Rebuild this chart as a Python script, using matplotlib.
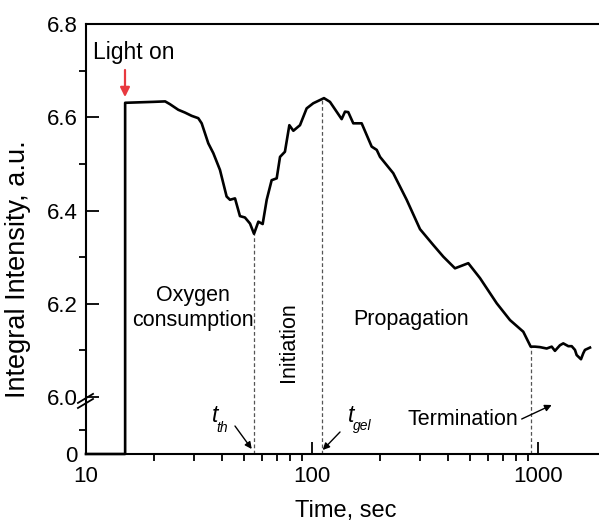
import numpy as np
import matplotlib
matplotlib.use('Agg')
import matplotlib.pyplot as plt

plt.rcParams['font.family'] = ['Liberation Sans', 'DejaVu Sans']

# data
time_s = [10, 14.9, 14.9, 19.85, 22.4, 23.53, 25.61, 27.42, 29.36, 31.39, 32.5,
          34.77, 36.59, 39.16, 41.9, 43.37, 45.64, 48.0, 50.5, 53.18, 55.4,
          57.9, 60.5, 63.04, 66.3, 69.8, 72.2, 75.9, 79.4, 82.7, 88.5, 94.7,
          101.3, 113.0, 120.1, 135.3, 140.0, 144.7, 152.3, 165.9, 183.7, 193.4,
          200.0, 228.9, 262.4, 300.6, 344.1, 381.1, 429.3, 491.6, 553.9, 656.8,
          751.9, 861.0, 928.5, 970, 1020, 1093, 1150, 1189, 1251, 1294, 1362,
          1410, 1458, 1483, 1550, 1587, 1614, 1699]
intensity = [0, 0, 6.631, 6.633, 6.634, 6.628, 6.616, 6.610, 6.603, 6.598, 6.587,
             6.544, 6.523, 6.487, 6.430, 6.423, 6.426, 6.388, 6.385, 6.372, 6.350,
             6.376, 6.371, 6.423, 6.465, 6.469, 6.515, 6.526, 6.583, 6.571, 6.583, 6.619,
             6.630, 6.641, 6.633, 6.596, 6.612, 6.611, 6.587, 6.587, 6.537, 6.530,
             6.515, 6.480, 6.423, 6.360, 6.326, 6.301, 6.276, 6.287, 6.255, 6.201,
             6.165, 6.140, 6.108, 6.108, 6.107, 6.104, 6.108, 6.099, 6.111, 6.115, 6.109,
             6.109, 6.101, 6.090, 6.081, 6.094, 6.101, 6.106]

mark_t = [55.4, 111.0, 931.0]      # t_th, t_gel, termination
mark_top = [6.350, 6.641, 6.108]

yticks = [0, 6.0, 6.2, 6.4, 6.6, 6.8]
yticklabels = ['0', '6.0', '6.2', '6.4', '6.6', '6.8']
yminor = [2.5, 6.1, 6.3, 6.5, 6.7]
xticks = [10, 100, 1000]
xticklabels = ['10', '100', '1000']

# broken y axis: 0..6 squeezed into a short bottom segment
c = 0.12225


def fwd(y):
    y = np.asarray(y, dtype=float)
    return np.where(y < 6, y * c / 6, c + (y - 6))


def inv(z):
    z = np.asarray(z, dtype=float)
    return np.where(z < c, z * 6 / c, z - c + 6)


fig = plt.figure(figsize=(5.99, 5.28), dpi=100)
ax = fig.add_axes([86/599, 74/528, 520/599, 430/528])
ax.set_xscale('log')
ax.set_yscale('function', functions=(fwd, inv))

ax.plot(time_s, intensity, color='k', lw=1.9, clip_on=False, zorder=3)
for t, top in zip(mark_t, mark_top):
    ax.plot([t, t], [0, top], color='#555555', lw=0.9, ls=(0, (3, 2)))

ax.set_xlim(10, 2000)
ax.set_ylim(0, 6.8)
ax.set_xticks(xticks)
ax.set_xticklabels(xticklabels)
ax.set_yticks(yticks)
ax.set_yticklabels(yticklabels)
ax.set_yticks(yminor, minor=True)
ax.tick_params(direction='in', labelsize=16, width=1.3)
ax.tick_params(axis='x', pad=9)
ax.tick_params(axis='y', pad=6)
ax.tick_params(which='major', length=9)
ax.tick_params(which='minor', length=5, width=1.3)
ax.tick_params(top=False, right=False, which='both')
for s in ax.spines.values():
    s.set_linewidth(1.5)

ax.set_xlabel('Time, sec', fontsize=17, labelpad=9)
ax.set_ylabel('Integral Intensity, a.u.', fontsize=19.5)
ax.yaxis.set_label_coords(-0.105, 0.43)

# break marks on y axis
for dy in (0.0, 0.0118):
    ax.plot([-0.0155, 0.0135], [0.107 + dy, 0.128 + dy], color='k', lw=1.3,
            transform=ax.transAxes, clip_on=False)

tr = ax.transAxes
fs = 15.5
ax.text(0.091, 0.9186, 'Light on', transform=tr, ha='center', va='baseline', fontsize=16.5)
ax.annotate('', xy=(0.075, 0.830), xytext=(0.075, 0.893), xycoords=tr,
            arrowprops=dict(arrowstyle='-|>', color='#e8393f', lw=1.6,
                            mutation_scale=14, shrinkA=0, shrinkB=0))
ax.text(0.2048, 0.3547, 'Oxygen', transform=tr, ha='center', va='baseline', fontsize=fs)
ax.text(0.2048, 0.2977, 'consumption', transform=tr, ha='center', va='baseline', fontsize=fs)
ax.text(0.3885, 0.2605, 'Initiation', transform=tr, ha='center', va='center',
        rotation=90, fontsize=fs)
ax.text(0.625, 0.30, 'Propagation', transform=tr, ha='center', va='baseline', fontsize=fs)
ax.text(0.724, 0.0674, 'Termination', transform=tr, ha='center', va='baseline', fontsize=fs)

ax.text(0.2423, 0.0744, 't', transform=tr, ha='left', va='baseline', fontsize=16.5, style='italic')
ax.text(0.2513, 0.0512, 'th', transform=tr, ha='left', va='baseline', fontsize=10, style='italic')
ax.text(0.5038, 0.0744, 't', transform=tr, ha='left', va='baseline', fontsize=16.5, style='italic')
ax.text(0.514, 0.0558, 'gel', transform=tr, ha='left', va='baseline', fontsize=10, style='italic')

arrow = dict(arrowstyle='-|>', color='k', lw=1.0, mutation_scale=10, shrinkA=0, shrinkB=0)
ax.annotate('', xy=(0.3187, 0.0116), xytext=(0.2865, 0.0651), xycoords=tr, arrowprops=arrow)
ax.annotate('', xy=(0.4552, 0.0093), xytext=(0.4885, 0.0512), xycoords=tr, arrowprops=arrow)
ax.annotate('', xy=(0.8956, 0.1140), xytext=(0.8379, 0.0814), xycoords=tr, arrowprops=arrow)

fig.savefig('out.png', dpi=100)
